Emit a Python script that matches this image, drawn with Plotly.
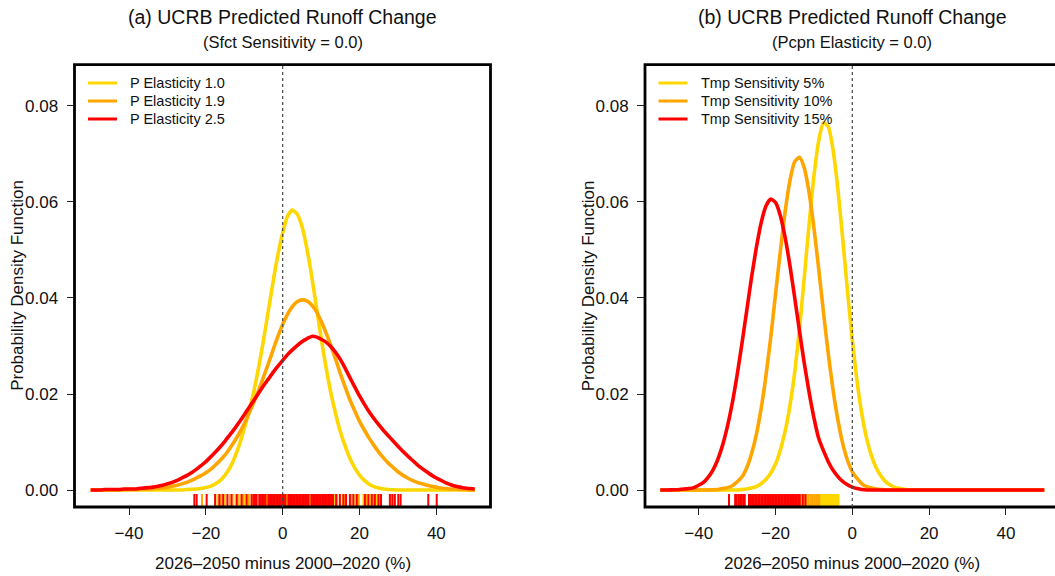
import numpy as np
import plotly.graph_objects as go

# ---------------------------------------------------------------
# Data: kernel density estimates of runoff change (%) on a common
# grid (-50 ... 50 in steps of 1.25), plus the ensemble values
# shown as rug ticks along the bottom of each panel
# ---------------------------------------------------------------
runoff_grid = np.linspace(-50, 50, 81)

# Panel (a): precipitation elasticity scenarios (Sfct sensitivity = 0)
pdf_p10 = [0] * 20 + [
    0.0001, 0.00015, 0.0002, 0.0003, 0.0005, 0.0008, 0.0013, 0.0020, 0.0031, 0.0046,
    0.0068, 0.0095, 0.0128, 0.0165, 0.0206, 0.0256, 0.0312, 0.0373, 0.0434, 0.0490,
    0.0536, 0.0570, 0.0583, 0.0575, 0.0550, 0.0505, 0.0448, 0.0383, 0.0317, 0.0257,
    0.0204, 0.0160, 0.0122, 0.0092, 0.0066, 0.0046, 0.0031, 0.0020, 0.0012, 0.0007,
    0.0004, 0.0002, 0.0001, 0.00005] + [0] * 17
pdf_p19 = [
    0, 0, 0, 0, 0, 0, 0, 0.0001, 0.0001, 0.0001,
    0.0001, 0.0002, 0.0002, 0.0003, 0.0003, 0.0004, 0.0006, 0.0008, 0.0010, 0.0013,
    0.0016, 0.0020, 0.0025, 0.0030, 0.0036, 0.0043, 0.0052, 0.0062, 0.0073, 0.0087,
    0.0102, 0.0119, 0.0138, 0.0160, 0.0183, 0.0208, 0.0235, 0.0263, 0.0292, 0.0320,
    0.0345, 0.0366, 0.0382, 0.0392, 0.0396, 0.0394, 0.0386, 0.0372, 0.0352, 0.0328,
    0.0302, 0.0273, 0.0243, 0.0215, 0.0188, 0.0165, 0.0143, 0.0125, 0.0108, 0.0093,
    0.0079, 0.0067, 0.0056, 0.0047, 0.0038, 0.0031, 0.0025, 0.0020, 0.0016, 0.0013,
    0.0010, 0.0008, 0.0006, 0.0004, 0.0003, 0.0002, 0.0002, 0.0001, 0.0001, 0, 0]
pdf_p25 = [
    0, 0, 0, 0.0001, 0.0001, 0.0001, 0.0001, 0.0002, 0.0002, 0.0002,
    0.0003, 0.0004, 0.0005, 0.0006, 0.0008, 0.0010, 0.0013, 0.0016, 0.0020, 0.0025,
    0.0030, 0.0036, 0.0043, 0.0051, 0.0059, 0.0069, 0.0079, 0.0090, 0.0102, 0.0115,
    0.0128, 0.0142, 0.0157, 0.0172, 0.0187, 0.0202, 0.0217, 0.0231, 0.0245, 0.0258,
    0.0270, 0.0282, 0.0292, 0.0301, 0.0309, 0.0315, 0.0320, 0.0319, 0.0314, 0.0308,
    0.0299, 0.0287, 0.0272, 0.0254, 0.0234, 0.0215, 0.0196, 0.0179, 0.0163, 0.0149,
    0.0136, 0.0124, 0.0113, 0.0102, 0.0091, 0.0081, 0.0071, 0.0062, 0.0053, 0.0045,
    0.0038, 0.0031, 0.0025, 0.0020, 0.0015, 0.0011, 0.0008, 0.0006, 0.0004, 0.0003, 0.0002]

# Panel (b): temperature sensitivity scenarios (Pcpn elasticity = 0)
pdf_t05 = [0] * 17 + [
    0.0001, 0.0002, 0.0004, 0.0007, 0.0013, 0.0022, 0.0035, 0.0054, 0.0083, 0.0122,
    0.0175, 0.0245, 0.0336, 0.0443, 0.0553, 0.0653, 0.0727, 0.0765, 0.0757, 0.0708,
    0.0627, 0.0524, 0.0415, 0.0313, 0.0226, 0.0158, 0.0107, 0.0071, 0.0046, 0.0029,
    0.0017, 0.0010, 0.0005, 0.0003, 0.0001] + [0] * 29
pdf_t10 = [0] * 10 + [
    0.00002, 0.00004, 0.0001, 0.0003, 0.0005, 0.0009, 0.0017, 0.0027, 0.0046, 0.0075,
    0.0115, 0.0169, 0.0237, 0.0317, 0.0407, 0.0496, 0.0579, 0.0644, 0.0684, 0.0693,
    0.0671, 0.0620, 0.0547, 0.0461, 0.0370, 0.0284, 0.0208, 0.0146, 0.0097, 0.0062,
    0.0038, 0.0024, 0.0013, 0.0007, 0.0004, 0.0002, 0.0001] + [0] * 34
pdf_t15 = [0, 0] + [
    0.00002, 0.00004, 0.0001, 0.0002, 0.0003, 0.0005, 0.0010, 0.0016, 0.0027, 0.0042,
    0.0064, 0.0094, 0.0133, 0.0181, 0.0239, 0.0304, 0.0373, 0.0442, 0.0504, 0.0556,
    0.0591, 0.0606, 0.0599, 0.0572, 0.0527, 0.0468, 0.0401, 0.0331, 0.0264, 0.0204,
    0.0151, 0.0108, 0.0082, 0.0059, 0.0041, 0.0028, 0.0018, 0.0011, 0.0006, 0.0003,
    0.0001] + [0] * 38

# Ensemble members (rug)
rug_p10 = [-17.0, -15.0, -12.8, -11.2, -9.9, -8.7, -7.9, -6.8, -5.5, -4.6, -3.9, -2.8,
           -1.6, -0.9, 0.3, 1.2, 2.4, 3.1, 4.2, 5.6, 6.3, 7.4, 8.8, 9.7, 11.0, 12.4,
           13.5, 15.6, 18.9, 21.0, 22.8, 24.4]
rug_p19 = [-21.0, -16.1, -13.8, -11.7, -10.3, -8.9, -7.3, -5.9, -4.1, -2.6, -1.1, 1.1,
           2.8, 4.0, 5.9, 7.1, 9.3, 10.9, 12.6, 14.2, 16.2, 17.9, 19.8, 21.8, 23.6, 25.2, 28.2]
rug_p25 = [-23.0, -22.4, -19.8, -17.6, -16.5, -15.5, -14.4, -13.3, -12.0, -10.7, -9.4, -8.1,
           -7.6, -7.2, -6.8, -6.1, -5.7, -5.3, -4.9, -4.5, -3.7, -3.3, -2.9, -2.5,
           -2.1, -1.7, -1.3, -0.9, -0.5, -0.1, 0.3, 0.7, 1.5, 1.9, 2.3, 2.7, 3.1, 3.5,
           3.9, 4.3, 4.7, 5.1, 5.5, 5.9, 6.3, 6.7, 7.5, 7.9, 8.3, 8.7, 9.1, 9.5, 9.9,
           10.3, 10.7, 11.1, 11.5, 11.9, 12.3, 12.7, 13.1, 13.9, 14.9, 15.8, 16.5,
           17.5, 18.4, 19.3, 21.4, 22.3, 23.2, 24.0, 24.9, 25.6, 27.9, 28.6, 29.2, 30.1,
           30.7, 37.9, 40.1]

rug_t05 = [-10.6, -9.8, -9.2, -8.4, -8.1, -7.8, -7.5, -7.2, -6.9, -6.6, -6.3, -6.0,
           -5.7, -5.4, -5.1, -4.8, -4.5, -4.2, -3.9, -3.6]
rug_t10 = [-21.5, -19.0, -17.0, -15.2, -14.0, -13.4, -12.6, -11.9, -11.4, -10.9,
           -10.4, -9.9, -9.4, -8.9, -8.6]
rug_t15 = [-32.1, -30.5, -30.1, -29.6, -29.2, -28.8, -28.4, -28.0, -26.9, -26.5, -26.1,
           -25.7, -25.3, -24.9, -24.5, -24.1, -23.7, -23.3, -22.9, -22.5, -22.1, -21.7,
           -21.3, -20.9, -20.5, -20.1, -19.7, -19.3, -18.9, -18.5, -18.1, -17.7, -17.3,
           -16.9, -16.5, -16.1, -15.7, -15.3, -14.9, -14.5, -14.1, -13.7, -12.9, -12.2]

labels_a = ["P Elasticity 1.0", "P Elasticity 1.9", "P Elasticity 2.5"]
labels_b = ["Tmp Sensitivity 5%", "Tmp Sensitivity 10%", "Tmp Sensitivity 15%"]
colors = ["#FFD700", "#FFA500", "#FF0000"]

titles = ["(a) UCRB Predicted Runoff Change", "(b) UCRB Predicted Runoff Change"]
subtitles = ["(Sfct Sensitivity = 0.0)", "(Pcpn Elasticity = 0.0)"]
x_title = "2026\u20132050 minus 2000\u20132020 (%)"
y_title = "Probability Density Function"

for arr in (pdf_p10, pdf_p19, pdf_p25, pdf_t05, pdf_t10, pdf_t15):
    assert len(arr) == len(runoff_grid), len(arr)

# ---------------------------------------------------------------
# Layout geometry (pixels on a 1055 x 576 canvas)
# ---------------------------------------------------------------
W, H = 1055, 576
FONT = "Liberation Sans, Arial, Helvetica, sans-serif"


def px(x):
    return x / W


def py(y):
    return 1 - y / H


box_top, box_bot = 64.7, 507.0
panels = [
    dict(left=74.5, right=490.5, xrange=[-54.2, 54.1], xa="x", ya="y"),
    dict(left=645.0, right=1059.7, xrange=[-53.98, 52.79], xa="x2", ya="y2"),
]
y_range = [-0.00354, 0.0886]
rug_len = 0.0027

fig = go.Figure()


def add_rug(values, color, xa, ya):
    xs, ys = [], []
    for v in values:
        xs += [v, v, None]
        ys += [y_range[0], y_range[0] + rug_len, None]
    fig.add_trace(go.Scatter(x=xs, y=ys, mode="lines", xaxis=xa, yaxis=ya,
                             line=dict(color=color, width=2.0),
                             hoverinfo="skip", showlegend=False))


series = [
    ([pdf_p10, pdf_p19, pdf_p25], [rug_p10, rug_p19, rug_p25], labels_a),
    ([pdf_t05, pdf_t10, pdf_t15], [rug_t05, rug_t10, rug_t15], labels_b),
]

for p, (pdfs, rugs, labels) in zip(panels, series):
    for pdf, col, lab in zip(pdfs, colors, labels):
        fig.add_trace(go.Scatter(x=runoff_grid, y=pdf, mode="lines", name=lab,
                                 xaxis=p["xa"], yaxis=p["ya"],
                                 line=dict(color=col, width=3.6, shape="spline", smoothing=0.6),
                                 showlegend=False))
    for rug, col in zip(rugs, colors):
        add_rug(rug, col, p["xa"], p["ya"])

axis_common = dict(showgrid=False, zeroline=False, showline=False,
                   ticks="outside", ticklen=7, tickwidth=1, tickcolor="#222",
                   tickfont=dict(family=FONT, size=17, color="#111"))

fig.update_layout(
    width=W, height=H, autosize=False,
    margin=dict(l=0, r=0, t=0, b=0),
    paper_bgcolor="white", plot_bgcolor="white",
    showlegend=False,
    xaxis=dict(domain=[px(panels[0]["left"]), px(panels[0]["right"])],
               range=panels[0]["xrange"], tickvals=[-40, -20, 0, 20, 40],
               anchor="y", ticklabelstandoff=4, **axis_common),
    yaxis=dict(domain=[py(box_bot), py(box_top)], range=y_range,
               tickvals=[0, 0.02, 0.04, 0.06, 0.08], tickformat=".2f",
               anchor="x", ticklabelstandoff=5, **axis_common),
    xaxis2=dict(domain=[px(panels[1]["left"]), 1.0],
                range=panels[1]["xrange"], tickvals=[-40, -20, 0, 20, 40],
                anchor="y2", ticklabelstandoff=4, **axis_common),
    yaxis2=dict(domain=[py(box_bot), py(box_top)], range=y_range,
                tickvals=[0, 0.02, 0.04, 0.06, 0.08], tickformat=".2f",
                anchor="x2", ticklabelstandoff=5, **axis_common),
)

shapes = []
annotations = []
for i, (p, labels) in enumerate(zip(panels, [labels_a, labels_b])):
    # frame around the plotting region
    shapes.append(dict(type="rect", xref="paper", yref="paper",
                       x0=px(p["left"]), x1=px(p["right"]), y0=py(box_bot), y1=py(box_top),
                       line=dict(color="black", width=2.8), layer="above"))
    # dotted reference line at zero change
    shapes.append(dict(type="line", xref=p["xa"], yref=p["ya"] + " domain",
                       x0=0, x1=0, y0=0, y1=1,
                       line=dict(color="#444", width=1.2, dash="dot"), layer="above"))
    cx = (p["left"] + p["right"]) / 2
    annotations.append(dict(text=titles[i], xref="paper", yref="paper",
                            x=px(cx), y=py(17.5), xanchor="center", yanchor="middle",
                            showarrow=False, font=dict(family=FONT, size=19.5, color="#111")))
    annotations.append(dict(text=subtitles[i], xref="paper", yref="paper",
                            x=px(cx), y=py(41.5), xanchor="center", yanchor="middle",
                            showarrow=False, font=dict(family=FONT, size=16.5, color="#111")))
    annotations.append(dict(text=x_title, xref="paper", yref="paper",
                            x=px(cx), y=py(563), xanchor="center", yanchor="middle",
                            showarrow=False, font=dict(family=FONT, size=17, color="#111")))
    annotations.append(dict(text=y_title, xref="paper", yref="paper",
                            x=px(p["left"] - 56.5), y=py((box_top + box_bot) / 2),
                            xanchor="center", yanchor="middle", textangle=-90,
                            showarrow=False, font=dict(family=FONT, size=17, color="#111")))
    # legend block
    lx0 = p["left"] + 13.5
    for j, (lab, col) in enumerate(zip(labels, colors)):
        ry = 83 + 18 * j
        shapes.append(dict(type="line", xref="paper", yref="paper",
                           x0=px(lx0), x1=px(lx0 + 29), y0=py(ry), y1=py(ry),
                           line=dict(color=col, width=3)))
        annotations.append(dict(text=lab, xref="paper", yref="paper",
                                x=px(lx0 + 40), y=py(ry), xanchor="left", yanchor="middle",
                                showarrow=False, font=dict(family=FONT, size=14.5, color="#111")))

fig.update_layout(shapes=shapes, annotations=annotations)

fig.write_html("out.html")
